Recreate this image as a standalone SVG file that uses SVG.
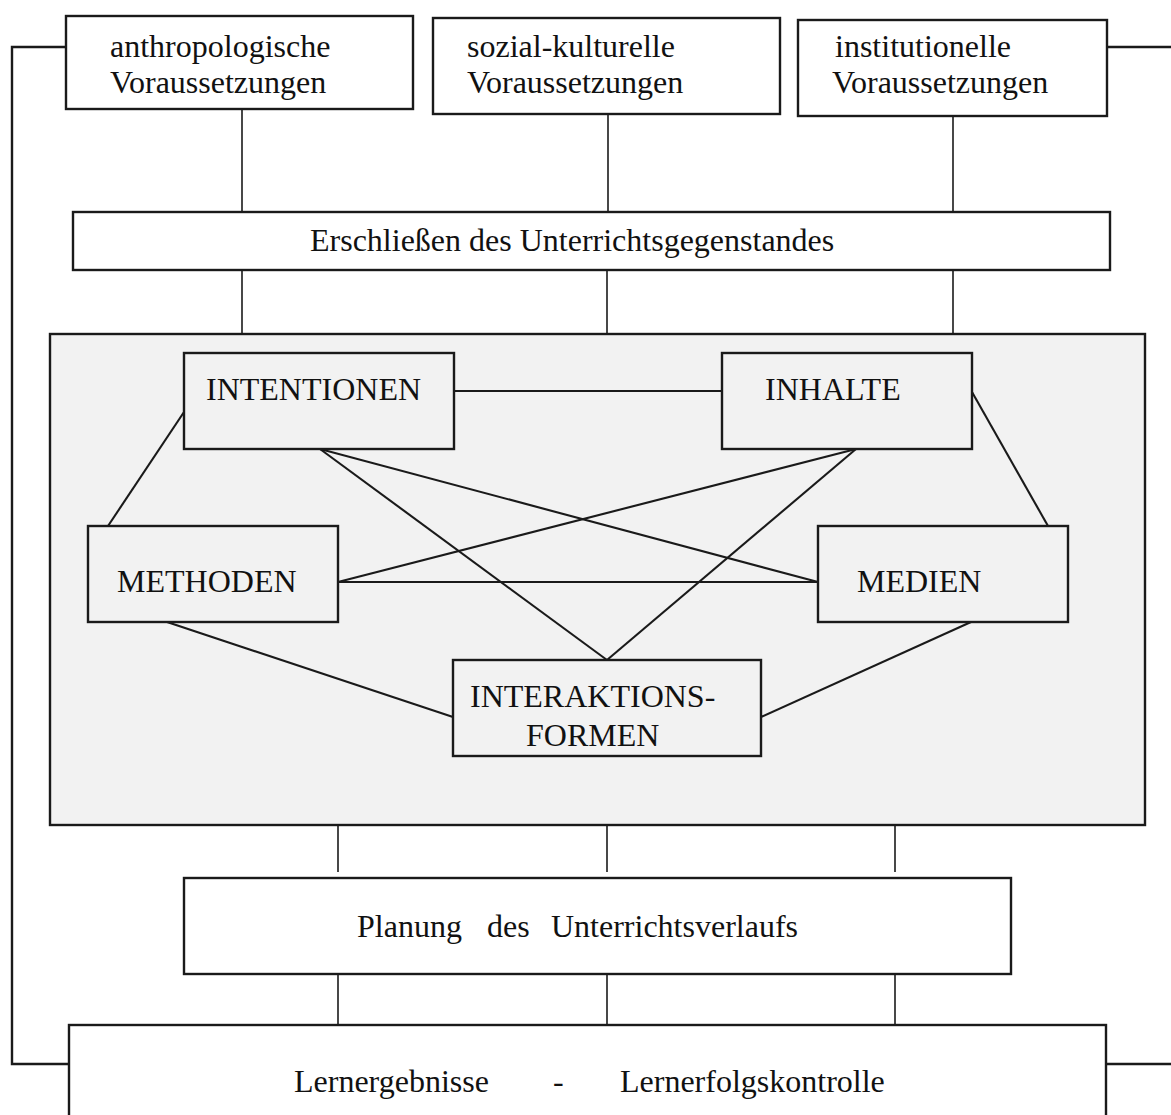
<svg xmlns="http://www.w3.org/2000/svg" width="1171" height="1115" viewBox="0 0 1171 1115">
  <style>
    .box { fill: #ffffff; stroke: #1a1a1a; stroke-width: 2.4; }
    .inner { fill: #f2f2f2; stroke: #1a1a1a; stroke-width: 2.4; }
    .panel { fill: #f2f2f2; stroke: #1a1a1a; stroke-width: 2.4; }
    .link { stroke: #1a1a1a; stroke-width: 1.6; fill: none; }
    .rel { stroke: #1a1a1a; stroke-width: 2.1; fill: none; }
    .frame { stroke: #1a1a1a; stroke-width: 2.4; fill: none; }
    text { font-family: "Liberation Serif", "Times New Roman", serif; font-size: 32px; fill: #111111; }
  </style>

  <rect width="1171" height="1115" fill="#ffffff"/>

  <!-- outer feedback frame and vertical links -->
  <g id="connectors">
    <polyline class="frame" points="66,47 12,47 12,1064 69,1064"/>
    <line class="frame" x1="1107" y1="47" x2="1171" y2="47"/>
    <line class="frame" x1="1106" y1="1064" x2="1171" y2="1064"/>

    <line class="link" x1="242" y1="109" x2="242" y2="212"/>
    <line class="link" x1="608" y1="114" x2="608" y2="212"/>
    <line class="link" x1="953" y1="116" x2="953" y2="214"/>

    <line class="link" x1="242" y1="270" x2="242" y2="334"/>
    <line class="link" x1="607" y1="270" x2="607" y2="334"/>
    <line class="link" x1="953" y1="270" x2="953" y2="334"/>

    <line class="link" x1="338" y1="825" x2="338" y2="872"/>
    <line class="link" x1="607" y1="825" x2="607" y2="872"/>
    <line class="link" x1="895" y1="825" x2="895" y2="872"/>

    <line class="link" x1="338" y1="974" x2="338" y2="1025"/>
    <line class="link" x1="607" y1="974" x2="607" y2="1025"/>
    <line class="link" x1="895" y1="974" x2="895" y2="1025"/>
  </g>

  <g id="anthropologische">
    <rect class="box" x="66" y="16" width="347" height="93"/>
    <text x="110" y="57">anthropologische</text>
    <text x="110" y="93">Voraussetzungen</text>
  </g>

  <g id="sozial-kulturelle">
    <rect class="box" x="433" y="18" width="347" height="96"/>
    <text x="467" y="57">sozial-kulturelle</text>
    <text x="467" y="93">Voraussetzungen</text>
  </g>

  <g id="institutionelle">
    <rect class="box" x="798" y="20" width="309" height="96"/>
    <text x="835" y="57">institutionelle</text>
    <text x="832" y="93">Voraussetzungen</text>
  </g>

  <g id="erschliessen">
    <rect class="box" x="73" y="212" width="1037" height="58"/>
    <text x="310" y="251">Erschließen des Unterrichtsgegenstandes</text>
  </g>

  <!-- shaded panel with the five planning fields -->
  <g id="planungsfelder">
    <rect class="panel" x="50" y="334" width="1095" height="491"/>

    <g id="relations">
      <line class="rel" x1="454" y1="391" x2="722" y2="391"/>
      <line class="rel" x1="184" y1="412" x2="108" y2="526"/>
      <line class="rel" x1="972" y1="392" x2="1048" y2="526"/>
      <line class="rel" x1="320" y1="449" x2="818" y2="582"/>
      <line class="rel" x1="320" y1="449" x2="607" y2="660"/>
      <line class="rel" x1="856" y1="449" x2="338" y2="582"/>
      <line class="rel" x1="856" y1="449" x2="607" y2="660"/>
      <line class="rel" x1="338" y1="582" x2="818" y2="582"/>
      <line class="rel" x1="167" y1="622" x2="453" y2="717"/>
      <line class="rel" x1="971" y1="622" x2="761" y2="717"/>
    </g>

    <g id="intentionen">
      <rect class="inner" x="184" y="353" width="270" height="96"/>
      <text x="206" y="400">INTENTIONEN</text>
    </g>
    <g id="inhalte">
      <rect class="inner" x="722" y="353" width="250" height="96"/>
      <text x="765" y="400">INHALTE</text>
    </g>
    <g id="methoden">
      <rect class="inner" x="88" y="526" width="250" height="96"/>
      <text x="117" y="592">METHODEN</text>
    </g>
    <g id="medien">
      <rect class="inner" x="818" y="526" width="250" height="96"/>
      <text x="857" y="592">MEDIEN</text>
    </g>
    <g id="interaktionsformen">
      <rect class="inner" x="453" y="660" width="308" height="96"/>
      <text x="470" y="707">INTERAKTIONS-</text>
      <text x="526" y="746">FORMEN</text>
    </g>
  </g>

  <g id="planung">
    <rect class="box" x="184" y="878" width="827" height="96"/>
    <text x="357" y="937">Planung</text>
    <text x="487" y="937">des</text>
    <text x="551" y="937">Unterrichtsverlaufs</text>
  </g>

  <g id="lernergebnisse">
    <rect class="box" x="69" y="1025" width="1037" height="110"/>
    <text x="294" y="1092">Lernergebnisse</text>
    <text x="553" y="1092">-</text>
    <text x="620" y="1092">Lernerfolgskontrolle</text>
  </g>
</svg>
